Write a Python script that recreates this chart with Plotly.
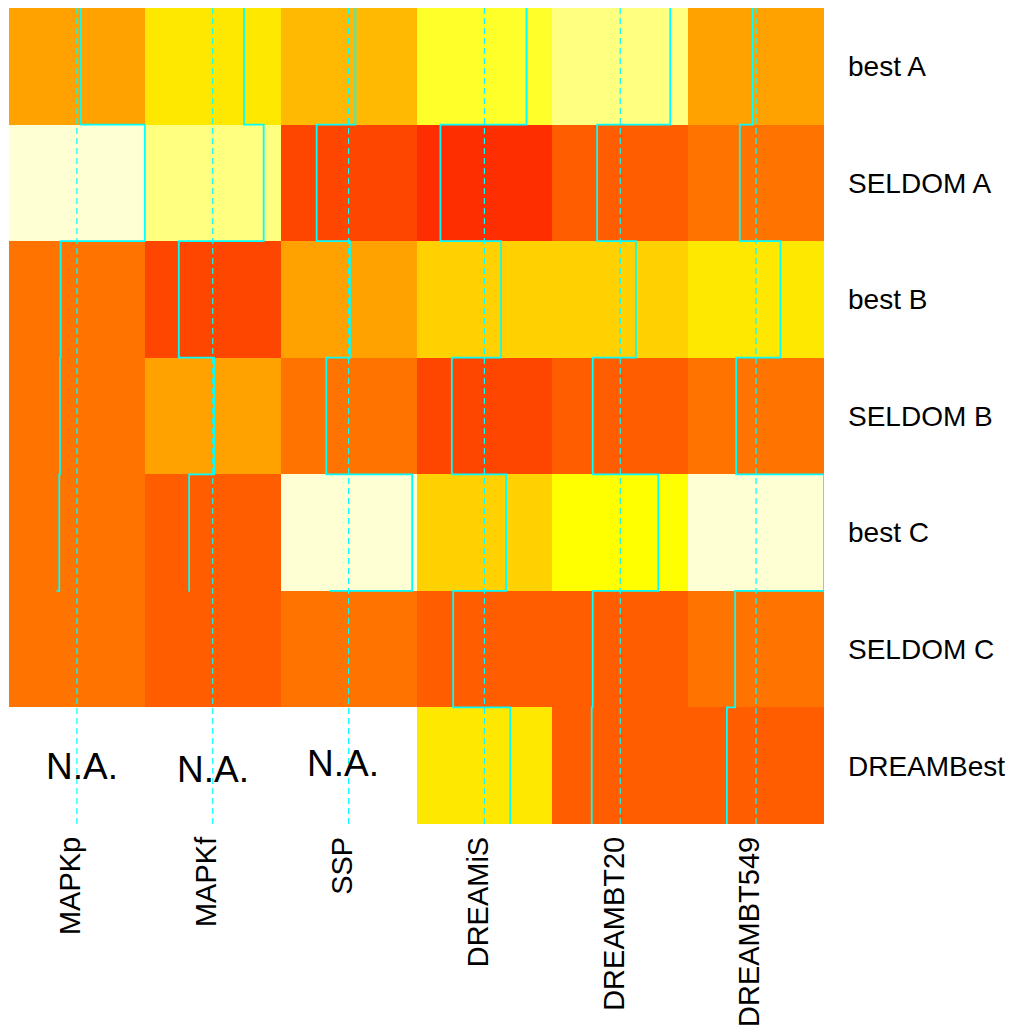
import plotly.graph_objects as go
import numpy as np

# ---- data (scaled values 0..1; None = not available) ----
columns = ["MAPKp", "MAPKf", "SSP", "DREAMiS", "DREAMBT20", "DREAMBT549"]
rows = ["best A", "SELDOM A", "best B", "SELDOM B", "best C", "SELDOM C", "DREAMBest"]  # top to bottom

MAPKp = [0.53, 1.00, 0.38, 0.375, 0.37, 0.35, None]
MAPKf = [0.73, 0.875, 0.25, 0.51, 0.326, 0.32, None]
SSP = [0.55, 0.265, 0.51, 0.336, 0.968, 0.36, None]
DREAMiS = [0.81, 0.176, 0.623, 0.26, 0.66, 0.27, 0.69]
DREAMBT20 = [0.868, 0.33, 0.615, 0.297, 0.78, 0.297, 0.29]
DREAMBT549 = [0.475, 0.38, 0.68, 0.353, 1.00, 0.346, 0.285]

na_label = "N.A."
na_positions = [(1.038, 0.99), (2.002, 0.97), (2.96, 1.015)]

series = [MAPKp, MAPKf, SSP, DREAMiS, DREAMBT20, DREAMBT549]

# ---- heat.colors(15) palette ----
palette = []
for k in range(12):
    g = round(255 * k / 11)
    palette.append(f"rgb(255,{g},0)")
for b in (42, 128, 212):
    palette.append(f"rgb(255,255,{b})")
nb = len(palette)
colorscale = []
for k, c in enumerate(palette):
    colorscale.append([k / nb, c])
    colorscale.append([(k + 1) / nb, c])

nrow = len(rows)
ncol = len(columns)
yvals = list(range(nrow, 0, -1))  # best A at top
xvals = list(range(1, ncol + 1))

z = []
for r in range(nrow):
    z.append([np.nan if s[r] is None else s[r] for s in series])

fig = go.Figure()
fig.add_trace(go.Heatmap(
    x=xvals, y=yvals, z=z, zmin=0, zmax=1,
    colorscale=colorscale, showscale=False, hoverinfo="skip",
))

# dashed centre lines
for i in xvals:
    fig.add_shape(type="line", x0=i, x1=i, y0=0.5, y1=nrow + 0.5,
                  xref="x", yref="y",
                  line=dict(color="cyan", width=1.2, dash="6px,4px"), layer="above")

# step trace lines (heatmap.2 column trace)
for i, s in zip(xvals, series):
    vb = list(reversed(s))  # bottom to top
    xv = [None if v is None else i - 0.5 + v for v in vb]
    xv = [xv[0]] + xv
    yv = [k + 0.5 for k in range(len(xv))]
    fig.add_trace(go.Scatter(
        x=xv, y=yv, mode="lines", line=dict(color="cyan", width=1.8, shape="hv"),
        connectgaps=False, hoverinfo="skip", showlegend=False,
    ))

for (ax, ay) in na_positions:
    fig.add_annotation(x=ax, y=ay, xref="x", yref="y", text=na_label, showarrow=False,
                       font=dict(size=37, color="black", family="Liberation Sans, Arial"))

# page body adds an 8px offset, so the figure is sized to fit the window
fig.update_layout(
    width=1005, height=1026,
    margin=dict(l=1, r=189, t=0, b=210),
    paper_bgcolor="white", plot_bgcolor="white",
    showlegend=False,
    font=dict(family="Liberation Sans, Arial", color="black"),
    xaxis=dict(range=[0.5, ncol + 0.5], tickmode="array",
               tickvals=[i - 0.045 for i in xvals], ticktext=columns,
               tickangle=-90, showgrid=False, zeroline=False, showline=False, ticks="",
               tickfont=dict(size=29, color="black"), ticklabelstandoff=6, fixedrange=True,
               automargin=False),
    yaxis=dict(range=[0.5, nrow + 0.5], tickmode="array", tickvals=yvals, ticktext=rows,
               side="right", showgrid=False, zeroline=False, showline=False, ticks="",
               tickfont=dict(size=28, color="black"), ticklabelstandoff=23, fixedrange=True,
               automargin=False),
)

fig.write_html("out.html")
